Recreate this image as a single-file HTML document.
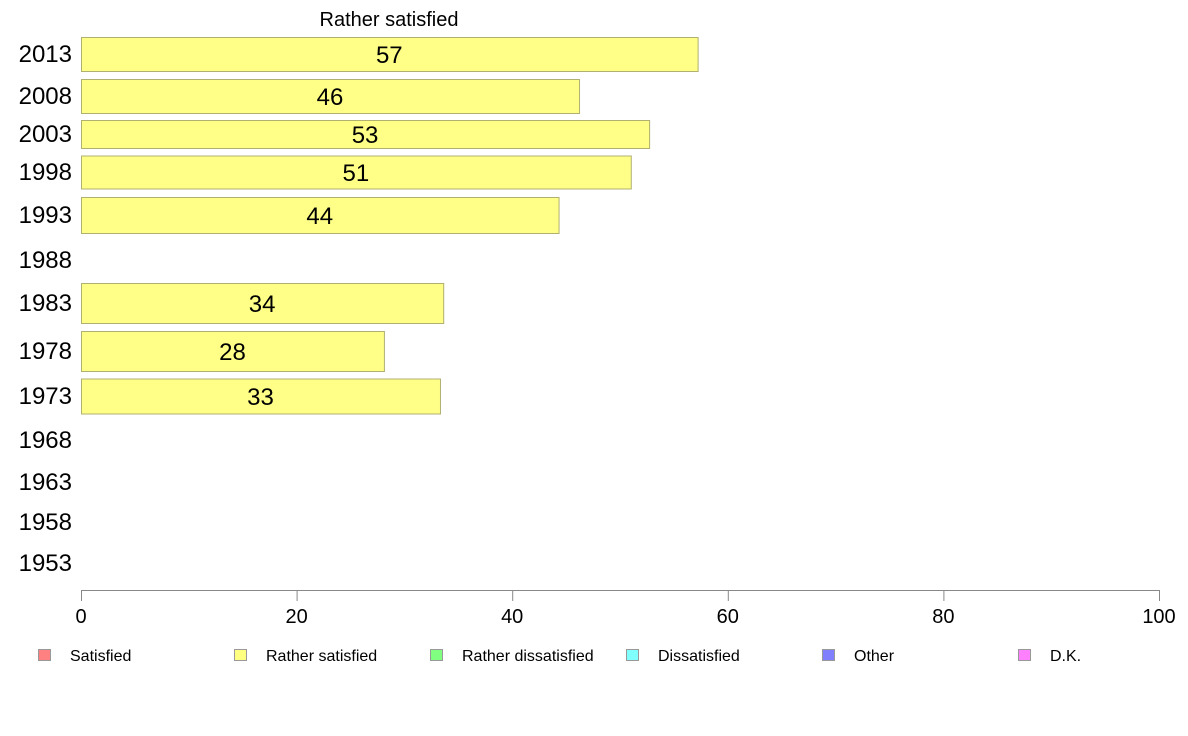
<!DOCTYPE html>
<html><head><meta charset="utf-8"><style>
body{margin:0;background:#fff;font-family:"Liberation Sans",Arial,sans-serif}
svg{display:block}
</style></head><body>
<svg id="c" width="1188" height="736">
<text x="389" y="26" font-size="20" text-anchor="middle">Rather satisfied</text>
</svg>
<script>
const years=["2013","2008","2003","1998","1993","1988","1983","1978","1973","1968","1963","1958","1953"];
const values=[57.2,46.2,52.7,51.0,44.3,null,33.6,28.1,33.3,null,null,null,null];
const valueLabels=["57","46","53","51","44","","34","28","33","","","",""];
const xTicks=[0,20,40,60,80,100];
const legendLabels=["Satisfied","Rather satisfied","Rather dissatisfied","Dissatisfied","Other","D.K."];
const legendColors=["#ff8080","#ffff80","#80ff80","#80ffff","#8080ff","#ff80ff"];
const rowCenters=[54,96,134,172,215,260,303,351,396,440,482,522,563];
const rowHeights=[34,34,28,33,36,0,40,40,35,0,0,0,0];
const NS="http://www.w3.org/2000/svg";
const svg=document.getElementById('c');
const x=v=>81+v*(1159-81)/100;
function mk(t,a){const e=document.createElementNS(NS,t);for(const k in a)e.setAttribute(k,a[k]);svg.appendChild(e);return e;}
years.forEach((y,i)=>{
  const t=mk('text',{x:72,y:rowCenters[i]+8,'font-size':24,'text-anchor':'end'});t.textContent=y;
  
  
  if(values[i]!=null){
    const r=mk('rect',{x:x(0)+0.5,y:rowCenters[i]-rowHeights[i]/2+0.5,width:x(values[i])-x(0),height:rowHeights[i],fill:'#ffff88',stroke:'#b0b070','stroke-width':1});
    
    
    const l=mk('text',{x:(x(0)+x(values[i]))/2,y:rowCenters[i]+9,'font-size':24,'text-anchor':'middle'});l.textContent=valueLabels[i];
    
    
  }
});
const ax=mk('line',{x1:x(0),x2:x(100),y1:590.5,y2:590.5,stroke:'#888','stroke-width':1});


xTicks.forEach(v=>{
  const tk=mk('line',{x1:x(v)+0.5,x2:x(v)+0.5,y1:590,y2:601,stroke:'#888','stroke-width':1});
  
  
  const t=mk('text',{x:x(v),y:623,'font-size':20,'text-anchor':'middle'});t.textContent=v;
  
  
});
legendLabels.forEach((s,i)=>{
  const lx=38+i*196;
  const r=mk('rect',{x:lx+0.5,y:649.5,width:12,height:11,fill:legendColors[i],stroke:'#999'});
  
  
  const t=mk('text',{x:lx+32,y:661,'font-size':16});t.textContent=s;
  
  
});
</script>
</body></html>
